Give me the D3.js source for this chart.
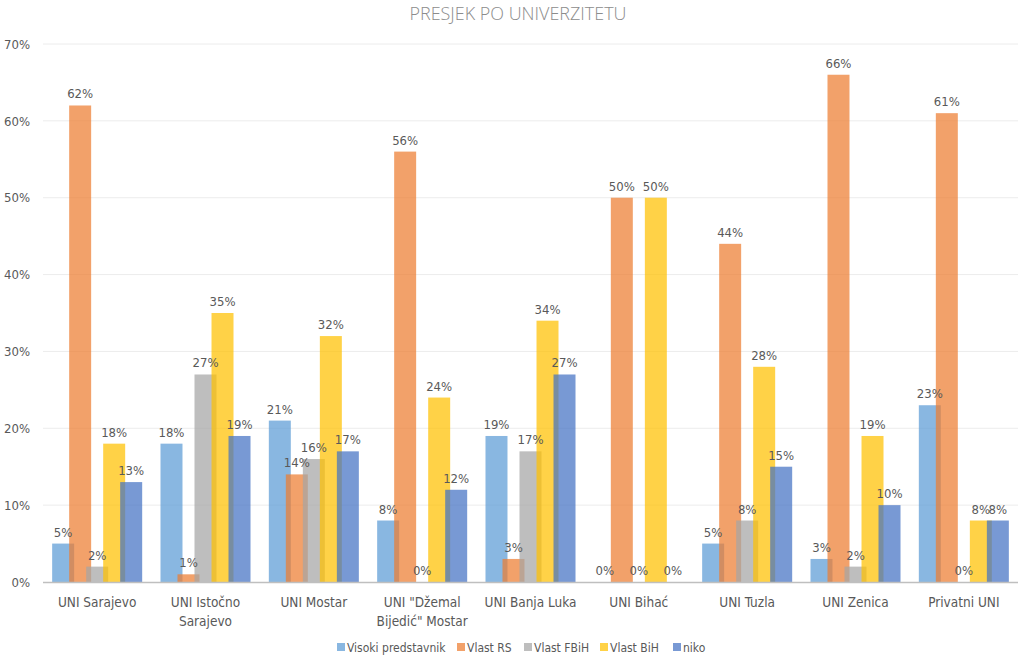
<!DOCTYPE html>
<html><head><meta charset="utf-8">
<script src="https://cdn.jsdelivr.net/npm/d3@7"></script>
<style>
body{margin:0;background:#fff;}
text{font-family:"Liberation Sans Narrow","DejaVu Sans Condensed","Liberation Sans",sans-serif;}
</style></head>
<body><svg id="c" width="1020" height="658"></svg>
<script>
const title = "PRESJEK PO UNIVERZITETU";
const categories = [["UNI Sarajevo"],["UNI Istočno","Sarajevo"],["UNI Mostar"],["UNI \"Džemal","Bijedić\" Mostar"],["UNI Banja Luka"],["UNI Bihać"],["UNI Tuzla"],["UNI Zenica"],["Privatni  UNI"]];
const seriesNames = ["Visoki predstavnik","Vlast RS","Vlast FBiH","Vlast BiH","niko"];
const seriesColors = ["#5B9BD5","#ED7D31","#A5A5A5","#FFC000","#4472C4"];
const visoki = [5,18,21,8,19,0,5,3,23];
const vlastRS = [62,1,14,56,3,50,44,66,61];
const vlastFBiH = [2,27,16,0,17,0,8,2,0];
const vlastBiH = [18,35,32,24,34,50,28,19,8];
const niko = [13,19,17,12,27,0,15,10,8];
const yTicks = [0,10,20,30,40,50,60,70];
const seriesValues = [visoki, vlastRS, vlastFBiH, vlastBiH, niko];

const svg = d3.select("#c");
const mLeft = 43, mRight = 1018, mTop = 44, mBottom = 582;
const x = d3.scaleBand().domain(d3.range(categories.length)).range([mLeft, mRight]).padding(0);
const y = d3.scaleLinear().domain([0,70]).range([mBottom, mTop]);
const bw = x.bandwidth();
const step = bw * 0.157, barW = bw * 0.203;
const xs = d3.scalePoint().domain(d3.range(seriesNames.length)).range([-2*step, 2*step]);

svg.append("text").attr("x", 518).attr("y", 20).attr("text-anchor","middle")
  .attr("font-size", 18).attr("fill", "#8c8c8c")
  .style("font-family", '"Open Sans","DejaVu Sans Condensed",sans-serif').style("font-weight", 300)
  .attr("textLength", 217).attr("lengthAdjust", "spacingAndGlyphs").text(title);

// grid
svg.append("g").selectAll("line").data(yTicks.filter(d=>d>0)).join("line")
  .attr("x1", mLeft).attr("x2", mRight).attr("y1", d=>y(d)).attr("y2", d=>y(d))
  .attr("stroke", "#ececec").attr("stroke-width", 1);

const yAxis = d3.axisLeft(y).tickValues(yTicks).tickFormat(d=>d+"%").tickSize(0).tickPadding(13);
const ga = svg.append("g").attr("transform", `translate(${mLeft},0)`).call(yAxis);
ga.select(".domain").remove();
ga.selectAll("text").attr("font-size", 13).attr("fill", "#595959")
  .style("font-family", '"Liberation Sans Narrow","DejaVu Sans Condensed",sans-serif');

// bars
seriesValues.forEach((vals, s) => {
  const g = svg.append("g");
  g.selectAll("rect").data(vals).join("rect")
    .attr("x", (d,i)=> x(i) + bw/2 + xs(s) - barW/2)
    .attr("width", barW)
    .attr("y", d=>y(d))
    .attr("height", d=> y(0)-y(d))
    .attr("fill", seriesColors[s]).attr("fill-opacity", 0.72);
});
seriesValues.forEach((vals, s) => {
  svg.append("g").selectAll("text").data(vals).join("text")
    .attr("x", (d,i)=> x(i) + bw/2 + xs(s))
    .attr("y", d=> y(d) - 7)
    .attr("text-anchor","middle").attr("font-size", 13).attr("fill", "#595959")
    .text(d=> d + "%");
});

// x axis line
svg.append("line").attr("x1", mLeft).attr("x2", mRight).attr("y1", y(0)+0.5).attr("y2", y(0)+0.5)
  .attr("stroke", "#bfbfbf").attr("stroke-width", 1.5);

// x labels
const xl = svg.append("g").selectAll("text").data(categories).join("text")
  .attr("text-anchor","middle").attr("font-size", 13.5).attr("fill", "#595959")
  .attr("x", (d,i)=> x(i) + bw/2).attr("y", 607);
xl.selectAll("tspan").data(d=>d).join("tspan")
  .attr("x", function(){ return d3.select(this.parentNode).attr("x"); })
  .attr("dy", (d,i)=> i===0 ? 0 : 19).text(d=>d);

// legend
const legendX = [337, 457, 524, 600, 673];
const lg = svg.append("g").selectAll("g").data(seriesNames).join("g")
  .attr("transform", (d,i)=>`translate(${legendX[i]},648)`);
lg.append("rect").attr("x",0).attr("y",-5).attr("width",8).attr("height",8)
  .attr("fill",(d,i)=>seriesColors[i]).attr("fill-opacity",0.72);
lg.append("text").attr("x",10).attr("y",3.5).attr("font-size",12).attr("fill","#595959").text(d=>d);
</script></body></html>
